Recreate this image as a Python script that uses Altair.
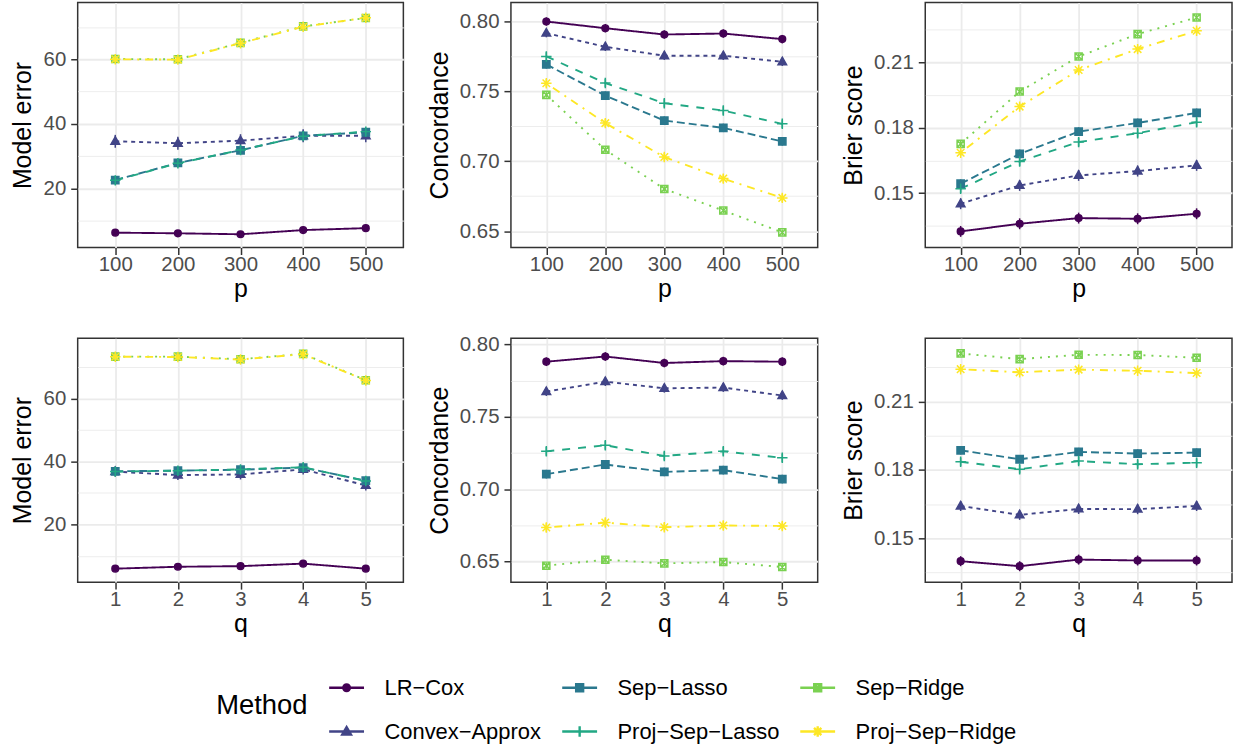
import json
import altair as alt
import pandas as pd

methods = ["LR-Cox", "Convex-Approx", "Sep-Lasso", "Proj-Sep-Lasso", "Sep-Ridge", "Proj-Sep-Ridge"]
colors = ["#440154", "#414487", "#2A788E", "#22A884", "#7AD151", "#FDE725"]
dashes = [[1, 0], [4, 4], [8, 4], [8, 8], [2, 6], [2, 6, 8, 6]]

p_vals = [100, 200, 300, 400, 500]
q_vals = [1, 2, 3, 4, 5]

# ---- top row (x = p) ----
me_p = {
    "LR-Cox": [6.3, 6.1, 5.8, 7.1, 7.7],
    "Convex-Approx": [34.6, 34.0, 34.8, 36.3, 36.3],
    "Sep-Lasso": [22.6, 27.9, 31.8, 36.3, 37.4],
    "Proj-Sep-Lasso": [22.5, 27.8, 31.9, 36.2, 37.6],
    "Sep-Ridge": [60.1, 60.0, 65.1, 70.2, 72.8],
    "Proj-Sep-Ridge": [60.0, 59.9, 65.0, 70.1, 72.9],
}
me_p_err = {"LR-Cox": 0.6, "Convex-Approx": 2.0, "Sep-Lasso": 1.2,
            "Proj-Sep-Lasso": 1.2, "Sep-Ridge": 1.0, "Proj-Sep-Ridge": 1.0}

conc_p = {
    "LR-Cox": [0.8000, 0.7952, 0.7907, 0.7914, 0.7874],
    "Convex-Approx": [0.7917, 0.7819, 0.7755, 0.7755, 0.7712],
    "Sep-Lasso": [0.7693, 0.7470, 0.7291, 0.7239, 0.7142],
    "Proj-Sep-Lasso": [0.7750, 0.7560, 0.7415, 0.7363, 0.7268],
    "Sep-Ridge": [0.7475, 0.7082, 0.6802, 0.6648, 0.6491],
    "Proj-Sep-Ridge": [0.7558, 0.7273, 0.7030, 0.6876, 0.6738],
}
conc_p_err = {"LR-Cox": 0.003, "Convex-Approx": 0.003, "Sep-Lasso": 0.003,
              "Proj-Sep-Lasso": 0.003, "Sep-Ridge": 0.002, "Proj-Sep-Ridge": 0.003}

brier_p = {
    "LR-Cox": [0.1324, 0.1359, 0.1385, 0.1382, 0.1405],
    "Convex-Approx": [0.1451, 0.1535, 0.1581, 0.1601, 0.1627],
    "Sep-Lasso": [0.1543, 0.1680, 0.1782, 0.1822, 0.1868],
    "Proj-Sep-Lasso": [0.1520, 0.1645, 0.1734, 0.1775, 0.1825],
    "Sep-Ridge": [0.1726, 0.1966, 0.2127, 0.2230, 0.2306],
    "Proj-Sep-Ridge": [0.1685, 0.1897, 0.2065, 0.2161, 0.2245],
}
brier_p_err = {"LR-Cox": 0.0025, "Convex-Approx": 0.0025, "Sep-Lasso": 0.002,
               "Proj-Sep-Lasso": 0.002, "Sep-Ridge": 0.0015, "Proj-Sep-Ridge": 0.0015}

# ---- bottom row (x = q) ----
me_q = {
    "LR-Cox": [5.9, 6.5, 6.7, 7.5, 5.9],
    "Convex-Approx": [36.8, 35.7, 35.9, 37.5, 32.4],
    "Sep-Lasso": [36.9, 37.1, 37.4, 38.1, 33.9],
    "Proj-Sep-Lasso": [36.8, 37.1, 37.5, 38.2, 33.8],
    "Sep-Ridge": [73.4, 73.4, 72.6, 74.3, 65.9],
    "Proj-Sep-Ridge": [73.4, 73.3, 72.5, 74.2, 65.8],
}
me_q_err = {"LR-Cox": 0.5, "Convex-Approx": 1.6, "Sep-Lasso": 1.2,
            "Proj-Sep-Lasso": 1.2, "Sep-Ridge": 1.0, "Proj-Sep-Ridge": 1.0}

conc_q = {
    "LR-Cox": [0.7881, 0.7917, 0.7872, 0.7885, 0.7881],
    "Convex-Approx": [0.7674, 0.7743, 0.7697, 0.7702, 0.7647],
    "Sep-Lasso": [0.7103, 0.7170, 0.7119, 0.7131, 0.7069],
    "Proj-Sep-Lasso": [0.7261, 0.7303, 0.7229, 0.7261, 0.7216],
    "Sep-Ridge": [0.6470, 0.6511, 0.6486, 0.6495, 0.6461],
    "Proj-Sep-Ridge": [0.6734, 0.6768, 0.6736, 0.6748, 0.6745],
}
conc_q_err = {"LR-Cox": 0.003, "Convex-Approx": 0.003, "Sep-Lasso": 0.003,
              "Proj-Sep-Lasso": 0.003, "Sep-Ridge": 0.002, "Proj-Sep-Ridge": 0.003}

brier_q = {
    "LR-Cox": [0.1400, 0.1378, 0.1407, 0.1403, 0.1403],
    "Convex-Approx": [0.1642, 0.1603, 0.1629, 0.1628, 0.1642],
    "Sep-Lasso": [0.1886, 0.1847, 0.1879, 0.1872, 0.1876],
    "Proj-Sep-Lasso": [0.1836, 0.1803, 0.1839, 0.1825, 0.1832],
    "Sep-Ridge": [0.2311, 0.2286, 0.2305, 0.2304, 0.2292],
    "Proj-Sep-Ridge": [0.2242, 0.2228, 0.2240, 0.2235, 0.2225],
}
brier_q_err = {"LR-Cox": 0.0022, "Convex-Approx": 0.0022, "Sep-Lasso": 0.0018,
               "Proj-Sep-Lasso": 0.0018, "Sep-Ridge": 0.0012, "Proj-Sep-Ridge": 0.0012}

# point glyphs (unit = sqrt(size)/2 px)
plot_paths = [
    "M-0.64,0A0.64,0.64 0 1,0 0.64,0A0.64,0.64 0 1,0 -0.64,0Z",
    "M0,-0.88L0.82,0.56L-0.82,0.56Z",
    "M-0.7,-0.7L0.7,-0.7L0.7,0.7L-0.7,0.7Z",
    "M-1,0L1,0M0,-1L0,1",
    "M-0.68,-0.68L0.68,-0.68L0.68,0.68L-0.68,0.68ZM-0.68,-0.68L0.68,0.68M-0.68,0.68L0.68,-0.68",
    "M-1,0L1,0M0,-1L0,1M-0.72,-0.72L0.72,0.72M-0.72,0.72L0.72,-0.72",
]
plot_fills = [colors[0], colors[1], colors[2], "transparent", "transparent", "transparent"]

# legend keys: line through the glyph (unit = 17.5 px)
legend_paths = [
    "M-1,0L1,0M-0.19,0A0.19,0.19 0 1,0 0.19,0A0.19,0.19 0 1,0 -0.19,0Z",
    "M-1,0L1,0M0,-0.26L0.25,0.17L-0.25,0.17Z",
    "M-1,0L1,0M-0.2,-0.2L0.2,-0.2L0.2,0.2L-0.2,0.2Z",
    "M-1,0L1,0M0,-0.3L0,0.3",
    "M-1,0L1,0M-0.2,-0.2L0.2,-0.2L0.2,0.2L-0.2,0.2ZM-0.2,-0.2L0.2,0.2M-0.2,0.2L0.2,-0.2",
    "M-1,0L1,0M0,-0.3L0,0.3M-0.21,-0.21L0.21,0.21M-0.21,0.21L0.21,-0.21",
]


def long_df(xs, series, errs):
    rows = []
    for m in methods:
        for xv, yv in zip(xs, series[m]):
            rows.append({"x": xv, "Method": m, "y": yv,
                         "lo": yv - errs[m], "hi": yv + errs[m]})
    return pd.DataFrame(rows)


FONT = "Liberation Sans"


def panel(df, xtitle, ytitle, domain, majors, minors, fmt, width, height, extent):
    vals = sorted(majors + minors)
    test = "indexof(" + json.dumps(majors) + ", datum.value) >= 0"
    yaxis = alt.Axis(
        values=vals, format=fmt,
        labelExpr="(" + test + ") ? datum.label : ''",
        tickOpacity={"condition": {"test": test, "value": 1}, "value": 0},
        gridWidth={"condition": {"test": test, "value": 1.8}, "value": 0.9},
        grid=True, minExtent=extent, maxExtent=extent,
        labelFontSize=20.5, labelPadding=5, titlePadding=7,
    )
    yscale = alt.Scale(domain=domain, nice=False, zero=False)
    x = alt.X("x:O", title=xtitle,
              scale=alt.Scale(type="point", padding=0.6),
              axis=alt.Axis(labelAngle=0, grid=True, gridWidth=1.8,
                            labelFontSize=20.5, labelPadding=0, titlePadding=2))
    stroke = alt.Stroke("Method:N", scale=alt.Scale(domain=methods, range=colors), legend=None)
    base = alt.Chart(df)
    lines = base.mark_line(strokeWidth=1.9).encode(
        x=x,
        y=alt.Y("y:Q", title=ytitle, scale=yscale, axis=yaxis),
        stroke=stroke,
        strokeDash=alt.StrokeDash("Method:N", scale=alt.Scale(domain=methods, range=dashes), legend=None),
    )
    errs = base.mark_rule(strokeWidth=1.5).encode(
        x=x,
        y=alt.Y("lo:Q", title=ytitle, scale=yscale, axis=yaxis),
        y2="hi:Q",
        stroke=stroke,
    )
    pts = base.mark_point(opacity=1, strokeWidth=1.5, size=110).encode(
        x=x,
        y=alt.Y("y:Q", title=ytitle, scale=yscale, axis=yaxis),
        stroke=stroke,
        fill=alt.Fill("Method:N", scale=alt.Scale(domain=methods, range=plot_fills), legend=None),
        shape=alt.Shape("Method:N", scale=alt.Scale(domain=methods, range=plot_paths), legend=None),
    )
    return alt.layer(lines, errs, pts).properties(width=width, height=height)


W = [327, 308, 308]
EXT = [35, 52, 52]
H_TOP = 246
H_BOT = 245

p1 = panel(long_df(p_vals, me_p, me_p_err), "p", "Model error", [1.7, 77.6],
           [20, 40, 60], [10, 30, 50, 70], "d", W[0], H_TOP, EXT[0])
p2 = panel(long_df(p_vals, conc_p, conc_p_err), "p", "Concordance", [0.6383, 0.8136],
           [0.65, 0.7, 0.75, 0.8], [0.675, 0.725, 0.775], ".2f", W[1], H_TOP, EXT[1])
p3 = panel(long_df(p_vals, brier_p, brier_p_err), "p", "Brier score", [0.125, 0.2375],
           [0.15, 0.18, 0.21], [0.135, 0.165, 0.195, 0.225], ".2f", W[2], H_TOP, EXT[2])
p4 = panel(long_df(q_vals, me_q, me_q_err), "q", "Model error", [1.6, 79.3],
           [20, 40, 60], [10, 30, 50, 70], "d", W[0], H_BOT, EXT[0])
p5 = panel(long_df(q_vals, conc_q, conc_q_err), "q", "Concordance", [0.6356, 0.8044],
           [0.65, 0.7, 0.75, 0.8], [0.675, 0.725, 0.775], ".2f", W[1], H_BOT, EXT[1])
p6 = panel(long_df(q_vals, brier_q, brier_q_err), "q", "Brier score", [0.1308, 0.2378],
           [0.15, 0.18, 0.21], [0.135, 0.165, 0.195, 0.225], ".2f", W[2], H_BOT, EXT[2])

row1 = alt.hconcat(p1, p2, p3, spacing=22)
row2 = alt.hconcat(p4, p5, p6, spacing=22)

# legend: column-major order like ggplot (3 columns x 2 rows)
leg_order = [0, 2, 4, 1, 3, 5]
leg_domain = [methods[i] for i in leg_order]
leg_colors = [colors[i] for i in leg_order]
leg_fills = [plot_fills[i] for i in leg_order]
leg_paths = [legend_paths[i] for i in leg_order]

leg = alt.Legend(
    title="Method", orient="none", legendX=139, legendY=-8,
    columns=3, direction="horizontal",
    titleOrient="left", titleFontSize=27.5, titleFontWeight="normal", titleColor="black",
    titleBaseline="middle", titleAnchor="middle", titlePadding=20,
    labelFontSize=22, labelColor="black", labelLimit=400,
    labelExpr="replace(datum.label, /-/g, '\u2212')",
    symbolSize=1225, symbolStrokeWidth=2.4, labelOffset=19,
    columnPadding=15, rowPadding=14,
)
legend_df = pd.DataFrame({"Method": leg_domain, "v": [0] * 6})
legend_chart = alt.Chart(legend_df).mark_point(opacity=1, clip=True).encode(
    x=alt.X("v:Q", scale=alt.Scale(domain=[10, 11]), axis=None),
    y=alt.Y("v:Q", scale=alt.Scale(domain=[10, 11]), axis=None),
    stroke=alt.Stroke("Method:N", scale=alt.Scale(domain=leg_domain, range=leg_colors), legend=leg),
    fill=alt.Fill("Method:N", scale=alt.Scale(domain=leg_domain, range=leg_fills), legend=leg),
    shape=alt.Shape("Method:N", scale=alt.Scale(domain=leg_domain, range=leg_paths), legend=leg),
).properties(width=1, height=1, view=alt.ViewBackground(stroke="transparent"))

chart = alt.vconcat(row1, row2, legend_chart, spacing=30).resolve_scale(
    stroke="independent", fill="independent", shape="independent", strokeDash="independent"
).properties(
    padding={"left": 10, "top": 0, "right": 2, "bottom": 2},
    background="white",
).configure(font=FONT).configure_view(
    stroke="#333333", strokeWidth=1.5
).configure_axis(
    domain=False, tickColor="#333333", tickWidth=1.5, tickSize=7,
    labelColor="#4D4D4D",
    titleFontSize=25, titleFontWeight="normal", titleColor="black",
    gridColor="#EBEBEB",
)

chart.save("out.html", embed_options={"renderer": "svg", "actions": False})
